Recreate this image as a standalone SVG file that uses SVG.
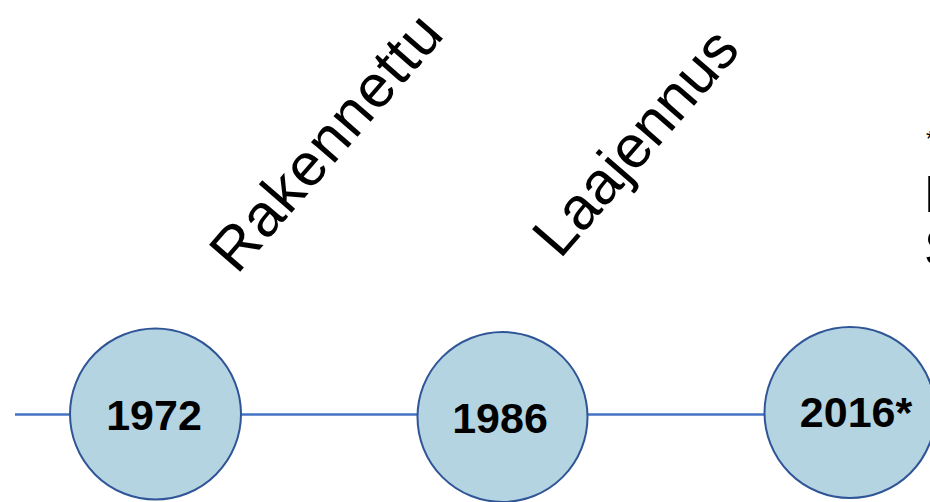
<svg xmlns="http://www.w3.org/2000/svg" width="930" height="502" viewBox="0 0 930 502">
<style>
.node circle{fill:#B4D4E1;stroke:#2F5597;stroke-width:2}
.year{font-family:"Liberation Sans",Arial,sans-serif;font-weight:bold;font-size:43px;fill:#000;text-anchor:middle}
.label{font-family:"Liberation Sans",Arial,sans-serif;font-size:60px;fill:#000}
.edge{font-family:"Liberation Sans",Arial,sans-serif;fill:#000}
.conn line{stroke:#4472C4;stroke-width:2.5}
</style>
<rect width="930" height="502" fill="#fff"/>
<g id="connectors" class="conn">
<line x1="15" y1="414.5" x2="70" y2="414.5"/>
<line x1="241" y1="414.5" x2="417" y2="414.5"/>
<line x1="588" y1="414.5" x2="764" y2="414.5"/>
</g>
<g id="node-1972" class="node">
<circle cx="155.5" cy="414" r="85.5"/>
<text class="year" x="154" y="430">1972</text>
</g>
<g id="node-1986" class="node">
<circle cx="502.5" cy="417" r="85"/>
<text class="year" x="500" y="433">1986</text>
</g>
<g id="node-2016" class="node">
<circle cx="850" cy="412.5" r="85.5"/>
<text class="year" x="856" y="427">2016*</text>
</g>
<g id="label-rakennettu">
<text class="label" transform="translate(237,275.5) rotate(-49)" textLength="318" lengthAdjust="spacing">Rakennettu</text>
</g>
<g id="label-laajennus">
<text class="label" transform="translate(560,260) rotate(-49)" textLength="277" lengthAdjust="spacing">Laajennus</text>
</g>
<g id="edge-text">
<text class="edge" x="926" y="146" font-size="22">*</text>
<text class="edge" x="924" y="212" font-size="52">L</text>
<text class="edge" x="924" y="266" font-size="52">S</text>
</g>
</svg>
